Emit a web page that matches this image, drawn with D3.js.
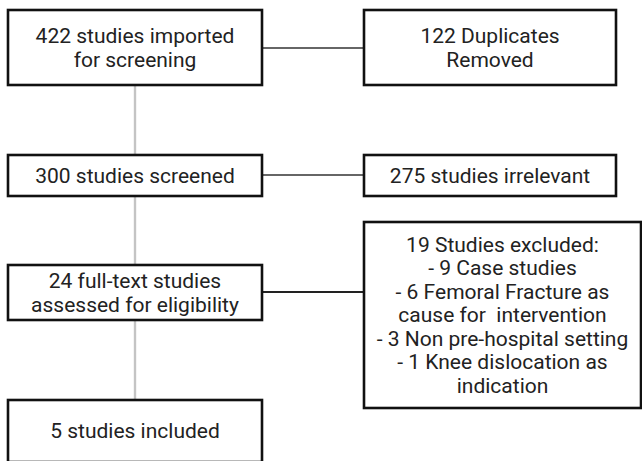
<!DOCTYPE html>
<html>
<head>
<meta charset="utf-8">
<script src="https://cdn.jsdelivr.net/npm/d3@7"></script>
<style>
  html, body { margin: 0; padding: 0; background: #fff; }
  svg { display: block; }
  text { font-family: Roboto, "Noto Sans", sans-serif; white-space: pre; }
</style>
</head>
<body>
<div id="vis-container"></div>
<script>
const width = 642;
const height = 461;

// box texts, top to bottom
const leftTexts = [
  ["422 studies imported", "for screening"],
  ["300 studies screened"],
  ["24 full-text studies", "assessed for eligibility"],
  ["5 studies included"]
];
const rightTexts = [
  ["122 Duplicates", "Removed"],
  ["275 studies irrelevant"],
  ["19 Studies excluded:", "- 9 Case studies", "- 6 Femoral Fracture as",
   "cause for  intervention", "- 3 Non pre-hospital setting",
   "- 1 Knee dislocation as", "indication"]
];

// layout (pixels)
const leftY = [[10, 85], [155, 196], [265, 320], [400, 462]];
const rightY = [[10, 85], [155, 196], [222, 408]];
const col = { left: [8, 262], right: [364, 616] };
const lineH = 23.5;
const fontSize = 21;

const svg = d3.select("#vis-container")
  .append("svg")
  .attr("width", width)
  .attr("height", height)
  .attr("viewBox", [0, 0, width, height]);

const left = leftTexts.map((t, i) => ({ lines: t, x0: col.left[0], x1: col.left[1], y0: leftY[i][0], y1: leftY[i][1] }));
const right = rightTexts.map((t, i) => ({ lines: t, x0: col.right[0], x1: i === 2 ? 641 : col.right[1], y0: rightY[i][0], y1: rightY[i][1] }));

// vertical connectors down the left column
const vx = (col.left[0] + col.left[1]) / 2;
svg.append("g")
  .selectAll("line")
  .data(d3.pairs(left))
  .join("line")
    .attr("x1", vx).attr("x2", vx)
    .attr("y1", d => d[0].y1)
    .attr("y2", d => d[1].y0)
    .attr("stroke", "#c4c4c4")
    .attr("stroke-width", 2.4);

// horizontal connectors to the right boxes
const hy = [48, 175, 292];
svg.append("g")
  .selectAll("line")
  .data(right)
  .join("line")
    .attr("x1", col.left[1]).attr("x2", col.right[0])
    .attr("y1", (d, i) => hy[i]).attr("y2", (d, i) => hy[i])
    .attr("stroke", (d, i) => i === 2 ? "#222" : "#666")
    .attr("stroke-width", 1.8);

// boxes
const boxes = svg.append("g")
  .selectAll("g")
  .data(left.concat(right))
  .join("g");

boxes.append("rect")
  .attr("x", d => d.x0)
  .attr("y", d => d.y0)
  .attr("width", d => d.x1 - d.x0)
  .attr("height", d => d.y1 - d.y0)
  .attr("fill", "#fff")
  .attr("stroke", "#111")
  .attr("stroke-width", 2.6);

boxes.append("text")
  .attr("text-anchor", "middle")
  .attr("font-size", fontSize)
  .attr("fill", "#222")
  .selectAll("tspan")
  .data(d => d.lines.map((s, j) => ({ s, j, n: d.lines.length, cx: (d.x0 + d.x1) / 2, cy: (d.y0 + d.y1) / 2 })))
  .join("tspan")
    .attr("x", d => d.cx)
    .attr("y", d => d.cy + (d.j - (d.n - 1) / 2) * lineH)
    .attr("dy", "0.35em")
    .text(d => d.s);
</script>
</body>
</html>
